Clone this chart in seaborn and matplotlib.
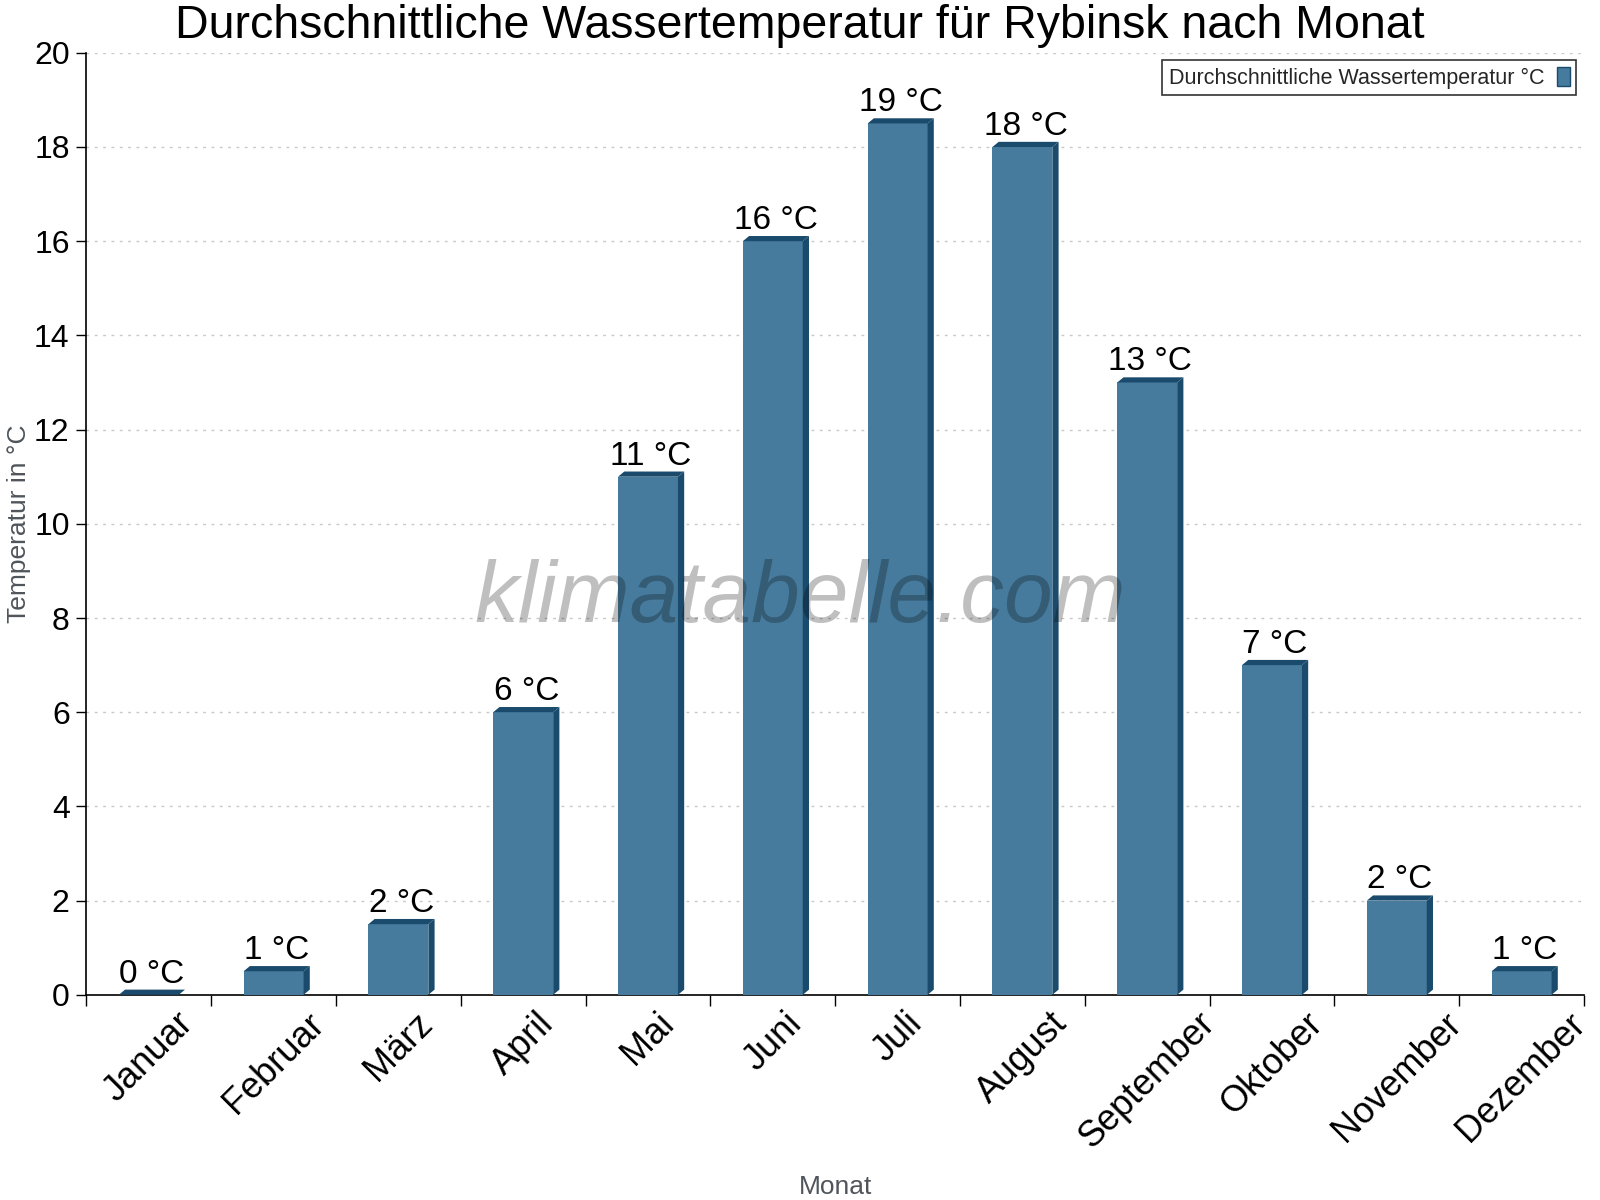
import matplotlib
matplotlib.use('Agg')
import matplotlib.pyplot as plt
from matplotlib.patches import Polygon
from matplotlib.ticker import MultipleLocator, FixedLocator
import seaborn as sns
import pandas as pd

# Daten
monate = ['Januar', 'Februar', 'März', 'April', 'Mai', 'Juni', 'Juli',
          'August', 'September', 'Oktober', 'November', 'Dezember']
temperatur = [0, 0.5, 1.5, 6, 11, 16, 18.5, 18, 13, 7, 2, 0.5]
beschriftung = ['0 °C', '1 °C', '2 °C', '6 °C', '11 °C', '16 °C', '19 °C',
                '18 °C', '13 °C', '7 °C', '2 °C', '1 °C']
serie = 'Durchschnittliche Wassertemperatur °C'

df = pd.DataFrame({'Monat': monate, 'Temperatur': temperatur})

sns.set_theme(style='white')
plt.rcParams['font.family'] = ['Liberation Sans', 'DejaVu Sans']

face = '#467b9d'
dunkel = '#1a4b6c'

fig, ax = plt.subplots(figsize=(16, 12), dpi=100)
fig.subplots_adjust(left=0.054, right=0.99, top=0.956, bottom=0.171)

sns.barplot(data=df, x='Monat', y='Temperatur', color=face, width=0.48,
            saturation=1, ax=ax, zorder=3, label=serie, linewidth=0,
            edgecolor=face)

ax.set_xlim(-0.5, 11.5)
ax.set_ylim(0, 20)

# 3D-Effekt: Oberseite und rechte Seite
dx, dy = 0.05, 0.11
for p in list(ax.patches):
    x0 = p.get_x()
    x1 = x0 + p.get_width()
    h = p.get_height()
    top = Polygon([(x0, h), (x0 + dx, h + dy), (x1 + dx, h + dy), (x1, h)],
                  closed=True, facecolor=dunkel, edgecolor='none', zorder=3)
    side = Polygon([(x1, 0), (x1 + dx, dy), (x1 + dx, h + dy), (x1, h)],
                   closed=True, facecolor=dunkel, edgecolor='none', zorder=3)
    ax.add_patch(top)
    ax.add_patch(side)

for i, (v, txt) in enumerate(zip(temperatur, beschriftung)):
    ax.text(i + dx / 2, v + dy, txt, ha='center', va='bottom',
            fontsize=24, color='black', zorder=5)

# Achsen
ax.yaxis.set_major_locator(MultipleLocator(2))
ax.grid(axis='y', color='#c8c8c8', linestyle=(0, (2, 4)), linewidth=1, zorder=0)
ax.grid(axis='x', visible=False)
ax.tick_params(axis='y', labelsize=23, length=7, width=1, direction='out',
               left=True, colors='black', pad=5)
ax.set_xticks(range(len(monate)))
ax.set_xticklabels(monate, rotation=45, fontsize=26, color='black')
ax.tick_params(axis='x', which='major', length=0, pad=8)
ax.xaxis.set_minor_locator(FixedLocator([i + 0.5 for i in range(-1, len(monate))]))
ax.tick_params(axis='x', which='minor', length=8, width=1, direction='out',
               bottom=True, color='black')

for s in ['top', 'right']:
    ax.spines[s].set_visible(False)
for s in ['left', 'bottom']:
    ax.spines[s].set_color('black')
    ax.spines[s].set_linewidth(1.2)

ax.set_ylabel('Temperatur in °C', fontsize=19, color='#4f555b')
ax.yaxis.set_label_coords(-0.037, 0.5)
ax.set_xlabel('Monat', fontsize=19, color='#4f555b', labelpad=14)

leg = ax.legend(loc='upper right', fontsize=15.5, markerfirst=False, frameon=True,
                fancybox=False, edgecolor='black', handlelength=0.6,
                handleheight=1.0, borderaxespad=0.35, borderpad=0.3,
                handletextpad=0.6)
leg.get_frame().set_linewidth(1.2)
for h in leg.legend_handles:
    h.set_edgecolor(dunkel)
    h.set_linewidth(1)

fig.text(0.5, 0.978, 'Durchschnittliche Wassertemperatur für Rybinsk nach Monat',
         ha='center', va='center', fontsize=33.5, color='black')

ax.text(0.477, 0.42, 'klimatabelle.com', transform=ax.transAxes,
        ha='center', va='center', fontsize=63, fontstyle='italic',
        color='black', alpha=0.25, zorder=6)

fig.savefig('out.png', dpi=100, facecolor='white')
